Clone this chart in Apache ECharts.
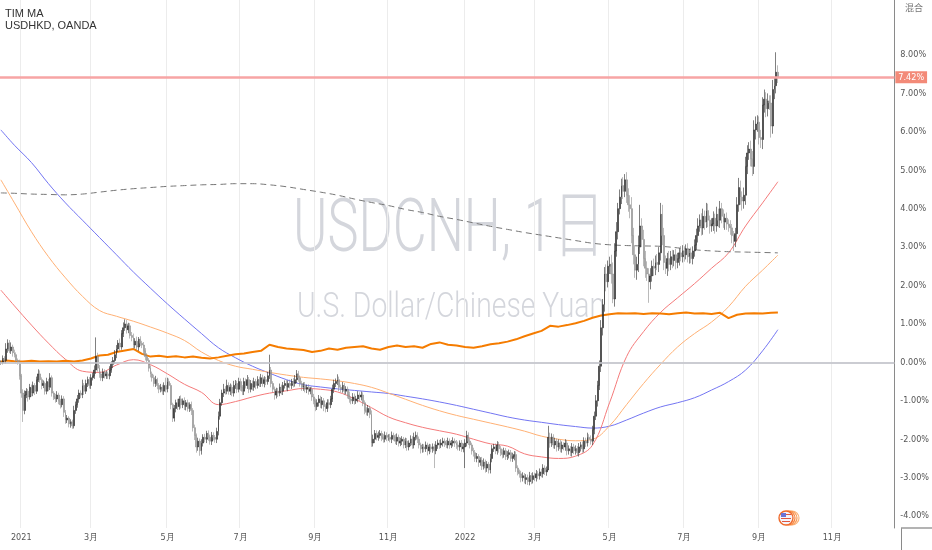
<!DOCTYPE html>
<html><head><meta charset="utf-8">
<script src="https://cdn.jsdelivr.net/npm/echarts@6/dist/echarts.min.js"></script>
<style>html,body{margin:0;padding:0;background:#fff}#c{width:932px;height:550px}</style>
</head><body><div id="c"></div>
<script>
// ---- DATA (percent change) ----
// daily closes, first row = 16-18 Dec 2020, then one row per week (Mon-Fri)
const closes = [
0.00,0.10,0.05,
0.35,0.50,0.30,0.40,0.25,
0.20,0.05,0.00,-0.35,-0.80,
-1.25,-0.85,-0.75,-0.90,-0.65,
-0.80,-0.60,-0.75,-0.45,-0.30,
-0.45,-0.60,-0.55,-0.75,-0.50,
-0.65,-0.40,-0.80,-0.90,-0.95,
-0.85,-1.00,-1.10,-0.95,-1.30,
-1.50,-1.45,-1.60,-1.55,-1.65,
-1.25,-1.10,-0.95,-0.80,-0.85,
-0.60,-0.75,-0.55,-0.45,-0.60,
-0.40,-0.35,-0.20,0.15,-0.15,
-0.30,-0.40,-0.25,-0.35,-0.30,
-0.35,-0.20,-0.05,0.05,0.20,
0.35,0.50,0.40,0.75,0.90,
1.00,0.85,0.95,0.70,0.65,
0.45,0.55,0.40,0.60,0.50,
0.45,0.30,0.15,0.05,-0.15,
-0.30,-0.40,-0.55,-0.45,-0.60,
-0.70,-0.65,-0.75,-0.60,-0.70,
-0.50,-0.60,-1.10,-1.45,-1.20,
-1.05,-1.15,-0.95,-1.10,-1.00,
-1.15,-1.05,-1.20,-1.10,-1.25,
-1.70,-1.90,-2.20,-2.05,-2.30,
-2.10,-1.95,-2.00,-1.85,-1.95,
-2.05,-1.90,-1.95,-2.00,-1.80,
-1.40,-1.05,-0.80,-0.70,-0.75,
-0.60,-0.75,-0.65,-0.80,-0.60,
-0.55,-0.70,-0.50,-0.65,-0.75,
-0.50,-0.60,-0.45,-0.70,-0.55,
-0.65,-0.50,-0.60,-0.45,-0.55,
-0.40,-0.55,-0.45,-0.50,-0.35,
-0.20,-0.55,-0.70,-0.85,-0.75,
-0.80,-0.65,-0.75,-0.60,-0.55,
-0.65,-0.55,-0.60,-0.50,-0.55,
-0.45,-0.30,-0.40,-0.55,-0.65,
-0.60,-0.70,-0.65,-0.75,-0.70,
-0.90,-1.00,-1.15,-1.05,-0.95,
-1.10,-1.00,-1.15,-1.20,-1.05,
-1.10,-0.95,-0.70,-0.55,-0.50,
-0.45,-0.65,-0.70,-0.60,-0.75,
-0.70,-0.85,-0.95,-1.00,-0.90,
-1.00,-0.95,-0.85,-0.90,-0.85,
-1.05,-1.25,-1.30,-1.20,-1.35,
-2.10,-2.00,-1.85,-1.95,-1.90,
-1.85,-1.95,-2.00,-1.90,-1.95,
-1.95,-2.00,-1.90,-1.95,-2.05,
-1.95,-2.10,-2.05,-2.00,-2.15,
-2.05,-2.20,-2.10,-2.00,-2.15,
-1.95,-1.90,-2.00,-2.15,-2.25,
-2.20,-2.25,-2.15,-2.30,-2.20,
-2.25,-2.20,-2.30,-2.15,-2.10,
-2.15,-2.10,-2.05,-2.10,-2.15,
-2.05,-2.15,-2.10,-2.05,-2.10,
-2.15,-2.20,-2.10,-2.25,-2.20,
-2.10,-1.90,-2.05,-2.15,-2.30,
-2.35,-2.50,-2.45,-2.60,-2.55,
-2.70,-2.60,-2.75,-2.65,-2.80,
-2.50,-2.25,-2.20,-2.30,-2.15,
-2.25,-2.35,-2.40,-2.30,-2.45,
-2.40,-2.35,-2.50,-2.45,-2.40,
-2.75,-2.85,-2.90,-3.00,-2.95,
-3.05,-3.00,-3.10,-2.95,-3.05,
-2.95,-3.00,-2.90,-2.95,-2.85,
-2.90,-2.75,-2.85,-2.80,-1.95,
-2.10,-1.95,-2.15,-2.05,-2.20,
-2.10,-2.25,-2.15,-2.20,-2.10,
-2.30,-2.25,-2.35,-2.20,-2.30,
-2.25,-2.35,-2.20,-2.15,-2.25,
-2.05,-2.10,-1.95,-2.00,-2.05,
-1.75,-1.40,-1.00,-0.60,-0.10,
0.90,1.50,2.30,2.10,2.50,
2.55,2.30,1.65,2.90,3.40,
4.00,4.30,4.60,4.45,4.75,
4.35,4.10,4.00,3.30,2.80,
2.40,2.55,3.00,3.55,3.20,
2.70,2.45,2.30,2.10,2.25,
2.50,2.45,2.60,2.55,2.85,
3.85,3.30,2.60,2.45,2.70,
2.55,2.75,2.65,2.80,2.60,
2.70,2.85,2.75,2.90,2.80,
2.95,2.75,2.85,2.70,2.90,
3.05,3.30,3.55,3.70,3.50,
3.80,3.65,3.95,3.70,3.55,
3.60,3.75,3.55,3.85,3.70,
4.00,3.80,3.65,3.75,3.60,
3.55,3.50,3.30,3.15,3.35,
4.10,4.55,4.30,4.20,4.35,
5.10,5.45,5.55,5.30,5.10,
6.05,6.20,6.25,5.85,5.80,
6.70,6.85,6.60,6.80,6.75,
6.15,7.10,7.20,7.55,7.42
];
// upper / lower wick length of each daily bar, in hundredths of a percent
const upperWick = [
5,8,6, 15,10,8,12,6, 8,6,5,7,5, 10,12,8,6,9, 7,10,6,8,12, 9,6,8,5,10, 7,12,6,5,8, 10,6,5,9,7,
6,8,5,7,6, 12,8,10,9,7, 15,6,10,8,7, 9,8,12,50,10, 8,6,9,7,8, 6,10,8,9,12, 10,8,12,9,14,
12,10,8,7,9, 10,8,12,6,8, 6,8,7,9,6, 7,6,8,10,5, 6,9,7,8,20, 10,8,6,5,9, 8,10,7,9,6,
9,7,8,6,8, 6,8,5,9,7, 10,8,9,7,8, 7,9,8,6,10, 12,10,9,14,8, 15,8,10,7,12, 9,7,10,8,6,
10,8,12,7,9, 8,10,7,9,8, 10,8,9,7,10, 40,8,6,7,9, 8,10,7,9,8, 9,8,10,7,9, 12,10,8,6,7,
8,9,7,8,6, 7,8,6,9,10, 8,10,7,6,9, 9,8,12,10,8, 14,8,7,9,6, 8,7,9,6,10, 9,8,10,7,9,
7,6,8,9,7, 10,12,9,8,10, 9,7,8,10,8, 8,9,10,7,8, 10,7,9,8,6, 9,8,7,10,8, 12,10,8,7,6,
8,7,9,6,8, 7,9,8,10,9, 8,10,9,7,8, 9,7,8,10,7, 8,9,7,8,9, 10,12,8,7,6, 8,7,9,6,8,
9,10,7,8,6, 12,10,8,9,10, 8,7,9,8,7, 9,8,7,10,9, 8,7,6,8,9, 7,9,8,10,7, 9,8,10,7,9,
8,10,7,9,30, 12,10,8,9,7, 10,8,9,7,10, 8,9,7,10,8, 9,7,10,8,9, 10,9,12,8,10, 10,12,15,12,15,
20,15,18,25,15, 20,25,30,20,25, 15,20,18,22,15, 20,18,25,30,20, 25,20,30,55,20, 25,20,18,15,20,
15,20,18,22,15, 30,25,20,18,15, 20,15,18,12,15, 15,12,18,15,12, 12,15,10,14,12, 15,18,20,15,18,
20,15,20,18,12, 15,18,12,20,15, 20,15,18,12,15, 12,15,10,12,15, 20,25,18,15,20, 25,20,18,22,20,
25,20,18,15,20, 20,25,18,20,15, 20,25,20,52,18
];
const lowerWick = [
6,5,8, 8,10,6,8,10, 7,8,6,10,12, 30,10,8,12,7, 9,8,10,7,6, 8,10,7,9,8, 10,7,9,8,10, 8,9,10,7,12,
10,8,9,10,8, 7,9,8,10,8, 8,10,7,9,8, 9,7,8,10,9, 10,8,9,7,8, 8,9,7,10,8, 9,8,10,7,9,
8,10,9,8,10, 10,8,9,10,7, 8,9,10,8,9, 9,10,8,9,10, 10,8,9,10,8, 8,9,12,10,9, 10,9,8,10,9,
9,10,8,9,12, 10,12,15,10,13, 10,9,8,10,9, 9,10,8,9,10, 10,9,8,10,9, 8,9,10,8,9, 9,10,8,9,10,
10,8,9,10,8, 8,9,10,8,9, 9,8,10,9,8, 8,10,9,12,9, 10,8,9,10,8, 9,10,8,9,10, 8,9,10,8,9,
9,8,10,9,8, 10,9,12,9,10, 9,10,12,10,9, 10,9,8,10,9, 9,10,8,9,10, 8,9,10,9,8, 10,8,9,10,9,
9,10,8,9,10, 10,9,10,8,9, 8,10,9,8,10, 9,8,10,9,8, 10,9,8,10,9, 8,10,9,8,10, 9,8,10,9,12,
10,9,8,12,9, 9,10,45,9,10, 10,8,9,10,8, 9,10,8,9,10, 10,9,10,8,9, 55,9,10,9,10, 10,9,10,12,9,
10,9,12,10,9, 9,10,8,9,10, 10,9,10,8,9, 9,10,8,9,10, 10,9,10,12,10, 10,12,9,10,12, 10,9,10,9,10,
9,10,8,10,0, 12,10,9,10,12, 10,9,10,9,10, 12,10,9,10,9, 10,9,10,12,10, 9,10,9,10,9, 10,12,10,15,12,
15,20,18,25,15, 20,25,11,20,15, 20,15,18,20,15, 20,18,25,20,25, 20,25,20,18,20, 20,25,18,55,20,
15,20,18,15,20, 20,25,20,15,20, 18,15,20,15,18, 15,18,12,15,18, 12,15,18,12,15, 15,12,18,15,20,
18,20,15,18,20, 15,18,20,15,18, 20,18,15,20,15, 15,18,20,25,15, 20,18,20,25,20, 25,20,18,20,25,
20,25,20,18,22, 25,20,22,20,18, 30,20,25,20,15
];
// indicator lines, one value every second week (week 0,2,...,90) plus the last bar
const ma50 = [1.88,1.47,0.97,0.5,0.08,-0.23,-0.26,-0.07,0.07,-0.06,-0.3,-0.57,-0.78,-1.1,-1.02,-0.9,-0.8,-0.74,-0.68,-0.7,-0.77,-0.95,-1.18,-1.42,-1.57,-1.69,-1.78,-1.87,-2.0,-2.12,-2.18,-2.38,-2.46,-2.5,-2.44,-2.15,-1.05,0.15,0.8,1.3,1.68,2.05,2.45,2.85,3.55,4.15,4.7];
const ma100 = [4.75,4.15,3.4,2.75,2.2,1.72,1.35,1.2,1.07,0.92,0.76,0.57,0.27,0.05,-0.1,-0.18,-0.26,-0.33,-0.39,-0.43,-0.48,-0.55,-0.65,-0.8,-0.96,-1.12,-1.26,-1.38,-1.48,-1.58,-1.68,-1.79,-1.92,-2.0,-2.04,-2.0,-1.65,-1.1,-0.55,-0.05,0.4,0.75,1.05,1.45,1.98,2.4,2.79];
const ma200 = [6.05,5.65,5.2,4.65,4.15,3.7,3.25,2.8,2.35,1.93,1.52,1.13,0.75,0.38,0.12,-0.1,-0.28,-0.45,-0.58,-0.64,-0.69,-0.73,-0.77,-0.81,-0.88,-0.95,-1.03,-1.12,-1.22,-1.32,-1.42,-1.5,-1.56,-1.62,-1.67,-1.71,-1.66,-1.5,-1.32,-1.16,-1.05,-0.92,-0.72,-0.5,-0.2,0.3,0.85];
const dashedMA = [4.41,4.4,4.38,4.37,4.36,4.38,4.43,4.48,4.52,4.55,4.58,4.6,4.62,4.63,4.65,4.65,4.62,4.57,4.5,4.43,4.35,4.25,4.16,4.08,3.98,3.9,3.8,3.72,3.63,3.54,3.46,3.38,3.31,3.24,3.17,3.1,3.06,3.04,3.03,3.02,2.98,2.93,2.9,2.88,2.87,2.86,2.85];
// USDHKD comparison, one value per week (week 0..91) plus the last bar
const usdhkd = [0.02,0.05,0.03,0.02,0.04,0.02,0.03,0.02,0.04,0.02,
0.05,0.10,0.18,0.20,0.27,0.31,0.35,0.22,0.15,0.17,
0.14,0.16,0.13,0.15,0.12,0.10,0.13,0.17,0.21,0.23,
0.27,0.30,0.46,0.40,0.36,0.34,0.32,0.27,0.30,0.36,
0.33,0.38,0.40,0.42,0.36,0.33,0.40,0.44,0.40,0.42,
0.38,0.48,0.52,0.46,0.44,0.40,0.38,0.42,0.47,0.50,
0.54,0.60,0.68,0.75,0.82,0.95,0.93,0.97,1.02,1.08,
1.16,1.22,1.25,1.28,1.27,1.28,1.26,1.28,1.27,1.25,
1.28,1.30,1.27,1.28,1.26,1.29,1.15,1.24,1.27,1.28,
1.27,1.29,1.30];
const lastValue = 7.42;
const monthNames = ['1月','2月','3月','4月','5月','6月','7月','8月','9月','10月','11月','12月'];

// ---- build axis categories (trading days) ----
const days = [];
{ const d = new Date(Date.UTC(2020, 11, 16));
  while (days.length < 526) { const wd = d.getUTCDay();
    if (wd !== 0 && wd !== 6) days.push(d.toISOString().slice(0, 10));
    d.setUTCDate(d.getUTCDate() + 1); } }
const weekBar = w => (w === 0 ? 0 : 3 + 5 * (w - 1));
const lastBar = closes.length - 1;
const biWeekDates = [];
for (let w = 0; w <= 90; w += 2) biWeekDates.push(days[weekBar(w)]);
biWeekDates.push(days[lastBar]);
const weekDates = [];
for (let w = 0; w <= 91; w++) weekDates.push(days[weekBar(w)]);
weekDates.push(days[lastBar]);
const pair = (dates, vals) => vals.map((v, i) => [dates[i], v]);

const candles = closes.map((c, i) => {
  const o = i === 0 ? c : closes[i - 1];
  return [o, c, Math.min(o, c) - lowerWick[i] / 100, Math.max(o, c) + upperWick[i] / 100];
});

const isMonthTick = (idx, val) => {
  if (idx === 0) return false;
  const m = +val.slice(5, 7);
  return m % 2 === 1 && days[idx - 1].slice(5, 7) !== val.slice(5, 7);
};

function fit(text, font, width) {
  const ctx = document.createElement('canvas').getContext('2d');
  ctx.font = font; return width / ctx.measureText(text).width;
}
const wm1Font = '300 74px Roboto, "Noto Sans CJK SC", sans-serif';
const wm2Font = '300 35px Roboto, sans-serif';
const wm1 = 'USDCNH, 1日', wm2 = 'U.S. Dollar/Chinese Yuan';
const axisFont = '"Liberation Sans Narrow", "DejaVu Sans Condensed", "Liberation Sans", sans-serif';

const chart = echarts.init(document.getElementById('c'), null, {renderer: 'canvas'});
chart.setOption({
  animation: false,
  backgroundColor: '#ffffff',
  grid: {left: 0, right: 31, top: 0, bottom: 22},
  xAxis: {
    type: 'category', data: days, boundaryGap: true,
    axisLine: {lineStyle: {color: '#9a9a9a', width: 1.5}},
    axisTick: {show: false},
    axisLabel: {interval: isMonthTick, margin: 5, fontSize: 9, color: '#555', fontFamily: axisFont,
      formatter: v => (+v.slice(5, 7) === 1 ? v.slice(0, 4) : monthNames[+v.slice(5, 7) - 1])},
    splitLine: {show: true, interval: isMonthTick, lineStyle: {color: '#ececec', width: 1}}
  },
  yAxis: {
    type: 'value', position: 'right', min: -4.31, max: 9.43, splitNumber: 14, minInterval: 1, maxInterval: 1,
    axisLine: {show: true, lineStyle: {color: '#8a8a8a', width: 1}},
    axisTick: {show: false}, splitLine: {show: false},
    axisLabel: {showMinLabel: false, showMaxLabel: false, margin: 6, fontSize: 9, color: '#555', fontFamily: axisFont,
      formatter: v => (v > 8.5 ? '' : v.toFixed(2) + '%')}
  },
  series: [
    {type: 'line', name: 'MA200', data: pair(biWeekDates, ma200), smooth: 0.4, symbol: 'none',
      lineStyle: {color: '#7375f2', width: 1}, z: 2,
      markLine: {silent: true, symbol: 'none', label: {show: false},
        lineStyle: {color: '#d3d5dc', width: 1.5, type: 'solid'}, data: [{yAxis: 0}]}},
    {type: 'line', name: 'MA100', data: pair(biWeekDates, ma100), smooth: 0.4, symbol: 'none',
      lineStyle: {color: '#ffb074', width: 1}, z: 2},
    {type: 'line', name: 'MA50', data: pair(biWeekDates, ma50), smooth: 0.4, symbol: 'none',
      lineStyle: {color: '#f47a7a', width: 1}, z: 2},
    {type: 'line', name: 'dashed', data: pair(biWeekDates, dashedMA), smooth: 0.4, symbol: 'none',
      lineStyle: {color: '#777', width: 1, type: [6, 4]}, z: 2},
    {type: 'line', name: 'USDHKD', data: pair(weekDates, usdhkd), smooth: false, symbol: 'none',
      lineStyle: {color: '#f57c00', width: 2}, z: 3},
    {type: 'candlestick', name: 'USDCNH', data: candles, barWidth: 1.4, z: 4,
      itemStyle: {color: '#2a2a2a', color0: '#a8a8a8', borderColor: '#2a2a2a', borderColor0: '#8c8c8c', borderWidth: 0.6},
      markLine: {silent: true, symbol: 'none', z: 5,
        lineStyle: {color: '#f7a5a5', width: 2.5, type: 'solid'},
        label: {show: true, position: 'end', distance: 1, formatter: lastValue.toFixed(2) + '%',
          backgroundColor: '#f38a78', color: '#fff', fontSize: 9, fontFamily: axisFont, padding: [2, 3, 1, 3]},
        data: [{yAxis: lastValue}]}}
  ],
  graphic: [
    {type: 'text', x: 293, y: 232, z: 0, scaleX: fit(wm1, wm1Font, 312),
      style: {text: wm1, font: wm1Font, fill: '#d4d6dc', align: 'left', verticalAlign: 'middle'}},
    {type: 'text', x: 297, y: 308, z: 0, scaleX: fit(wm2, wm2Font, 308),
      style: {text: wm2, font: wm2Font, fill: '#d4d6dc', align: 'left', verticalAlign: 'middle'}},
    {type: 'text', x: 5, y: 14, z: 10, style: {text: 'TIM MA', font: '11px "Liberation Sans", Arial, sans-serif', fill: '#333', verticalAlign: 'middle'}},
    {type: 'text', x: 5, y: 26, z: 10, style: {text: 'USDHKD, OANDA', font: '11px "Liberation Sans", Arial, sans-serif', fill: '#333', verticalAlign: 'middle'}},
    {type: 'text', x: 905, y: 8, z: 10, style: {text: '混合', font: '9px "Noto Sans CJK SC", sans-serif', fill: '#777', verticalAlign: 'middle'}},
    {type: 'line', z: 10, shape: {x1: 901.5, y1: 528, x2: 901.5, y2: 550}, style: {stroke: '#8a8a8a', lineWidth: 1}},
    {type: 'line', z: 10, shape: {x1: 901, y1: 528, x2: 932, y2: 528}, style: {stroke: '#9a9a9a', lineWidth: 1.5}},
    {type: 'group', z: 10, x: 786, y: 518, children: [
      {type: 'circle', shape: {cx: 6, cy: 0, r: 7}, style: {fill: '#fff', stroke: '#fbb37a', lineWidth: 1.2}},
      {type: 'circle', shape: {cx: 4, cy: 0, r: 7}, style: {fill: '#fff', stroke: '#f99a55', lineWidth: 1.2}},
      {type: 'circle', shape: {cx: 2, cy: 0, r: 7}, style: {fill: '#fff', stroke: '#f7823a', lineWidth: 1.2}},
      {type: 'circle', shape: {cx: 0, cy: 0, r: 7}, style: {fill: '#f4f4fb', stroke: '#f06a2a', lineWidth: 1.4}},
      {type: 'rect', shape: {x: -5, y: -5, width: 5, height: 4}, style: {fill: '#6b74d6'}},
      {type: 'rect', shape: {x: 0, y: -4, width: 5, height: 1}, style: {fill: '#e0573f'}},
      {type: 'rect', shape: {x: -5, y: 0, width: 10, height: 1}, style: {fill: '#e0573f'}},
      {type: 'rect', shape: {x: -4, y: 3, width: 8, height: 1}, style: {fill: '#e0573f'}}
    ]}
  ]
});
</script></body></html>
